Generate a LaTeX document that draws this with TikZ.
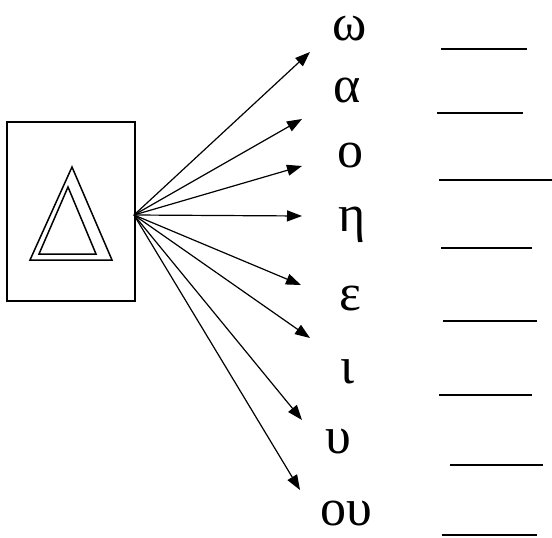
\documentclass[tikz,border=0pt]{standalone}
\usepackage{fontspec}
\setmainfont{Liberation Serif}
\usetikzlibrary{arrows.meta}
\begin{document}
\begin{tikzpicture}[x=1pt,y=-1pt,
  conn/.style={line width=1.2pt,-{Triangle[length=15pt,width=11pt]}},
  letter/.style={font=\fontsize{52}{56}\selectfont,inner sep=0pt,anchor=base,text height=0.48em},
  blank/.style={line width=1.5pt},
  frame/.style={line width=1.5pt},
  tri/.style={line width=1.5pt,line join=miter}]
\useasboundingbox (0,0) rectangle (552,538);
% box and triangles
\draw[frame] (7,122) rectangle (135,301);
\draw[tri] (72,167) -- (30,260) -- (112,260) -- cycle;
\draw[tri] (68,187) -- (39,254) -- (96,254) -- cycle;
\coordinate (hub) at (134,215);
% letters
\node[letter] (w) at (350,40) {ω};
\node[letter] (a) at (347,102) {α};
\node[letter] (o) at (350,167) {ο};
\node[letter] (h) at (352,231) {η};
\node[letter] (e) at (350,310) {ε};
\node[letter] (i) at (347,383) {ι};
\node[letter] (u) at (338,453) {υ};
\node[letter] (ou) at (346,525) {ου};
% arrow tips
\coordinate (tw) at (310,52);
\coordinate (ta) at (302,119);
\coordinate (to) at (302,166);
\coordinate (th) at (302,216);
\coordinate (te) at (301,285);
\coordinate (ti) at (310,338);
\coordinate (tu) at (302,420);
\coordinate (tou) at (300,490);
\foreach \t in {tw,ta,to,th,te,ti,tu,tou}
  \draw[conn] (hub) -- (\t);
% blanks
\draw[blank] (441,49) -- (527,49);
\draw[blank] (437,113) -- (523,113);
\draw[blank] (439,180) -- (552,180);
\draw[blank] (441,248) -- (532,248);
\draw[blank] (443,321) -- (537,321);
\draw[blank] (439,395) -- (532,395);
\draw[blank] (450,465) -- (543,465);
\draw[blank] (442,535) -- (537,535);
\end{tikzpicture}
\end{document}
